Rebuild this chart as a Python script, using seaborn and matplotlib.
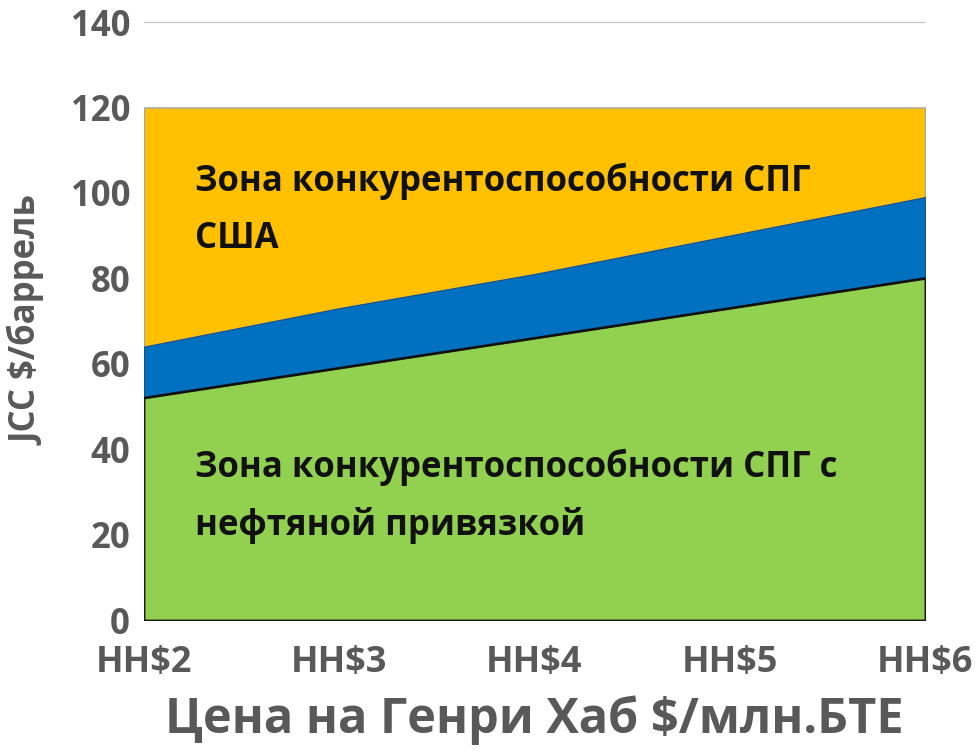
import matplotlib
matplotlib.use("Agg")
import matplotlib.pyplot as plt
import seaborn as sns
import numpy as np
import pandas as pd

# Henry Hub price points and JCC break-even levels ($/barrel)
hh_labels = ["HH$2", "HH$3", "HH$4", "HH$5", "HH$6"]
oil_linked = [52, 59, 66, 73, 80]        # upper edge of the oil-indexed LNG zone
us_lng_cost = [64, 73, 81, 90, 99]       # upper edge of the US LNG cost band
chart_top = [120, 120, 120, 120, 120]    # upper edge of the US LNG zone
y_ticks = [0, 20, 40, 60, 80, 100, 120, 140]

zone_us = "Зона конкурентоспособности СПГ\nСША"
zone_oil = "Зона конкурентоспособности СПГ с\nнефтяной привязкой"
x_title = "Цена на Генри Хаб $/млн.БТЕ"
y_title = "JCC $/баррель"

sns.set_theme(style="white")
plt.rcParams["font.family"] = ["Open Sans", "DejaVu Sans"]

df = pd.DataFrame({
    "pos": np.arange(len(hh_labels)),
    "oil": oil_linked,
    "us": us_lng_cost,
    "top": chart_top,
})

fig = plt.figure(figsize=(9.78, 7.51), dpi=100)
ax = fig.add_axes([0.1472, 0.1744, 0.7986, 0.7963])

green = "#92D050"
blue = "#0070C0"
orange = "#FFC000"
grey = "#595959"

# gridline at the top level
ax.axhline(140, color="#BFBFBF", lw=1.5, zorder=0)

ax.fill_between(df["pos"], df["us"], df["top"], color=orange,
                edgecolor="#A6A6A6", lw=1.0, zorder=1)
ax.fill_between(df["pos"], df["oil"], df["us"], color=blue,
                edgecolor="#1F4E79", lw=0.8, zorder=2)
ax.fill_between(df["pos"], 0, df["oil"], color=green,
                edgecolor="#1A1A1A", lw=1.4, zorder=3)
sns.lineplot(data=df, x="pos", y="oil", color="#111111", lw=1.6, ax=ax,
             zorder=4)

ax.set_xlim(0, len(hh_labels) - 1)
ax.set_ylim(0, 140)
ax.set_yticks(y_ticks)
ax.set_xticks(df["pos"])
ax.set_xticklabels(hh_labels)

for s in ax.spines.values():
    s.set_visible(False)

ax.tick_params(axis="x", length=10, width=1.5, color="#A6A6A6",
               direction="out", pad=8, labelsize=26, labelcolor=grey)
ax.tick_params(axis="y", length=0, pad=10, labelsize=25, labelcolor=grey)
for lab in ax.get_xticklabels() + ax.get_yticklabels():
    lab.set_fontweight("bold")

ax.set_xlabel(x_title, fontsize=35, fontweight="bold", color=grey,
              labelpad=10)
ax.set_ylabel(y_title, fontsize=25, fontweight="bold", color=grey)
ax.yaxis.set_label_coords(-0.125, 0.5)

ax.text(0.26, 107, zone_us, fontsize=25, fontweight="bold",
        color="#111111", va="top", ha="left", linespacing=1.75, zorder=5)
ax.text(0.26, 40, zone_oil, fontsize=25, fontweight="bold",
        color="#111111", va="top", ha="left", linespacing=1.75, zorder=5)

fig.savefig("out.png", dpi=100)
